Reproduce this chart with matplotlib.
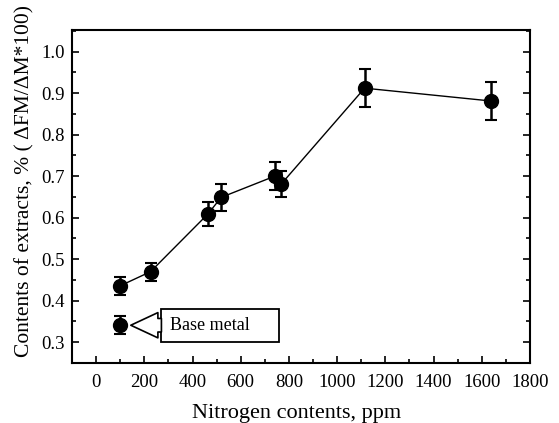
import matplotlib
matplotlib.use("Agg")
import matplotlib.pyplot as plt
from matplotlib.ticker import MultipleLocator
from matplotlib.patches import Rectangle

nitrogen = [100, 226, 464, 519, 741, 768, 1114, 1640]
extracts = [0.436, 0.470, 0.609, 0.649, 0.700, 0.681, 0.912, 0.881]
errors = [0.022, 0.022, 0.030, 0.032, 0.033, 0.032, 0.045, 0.045]
base_x = [100]
base_y = [0.341]
base_err = [0.022]
base_label = "Base metal"

plt.rcParams['font.family'] = ['Liberation Serif', 'DejaVu Serif']

fig = plt.figure(figsize=(5.59, 4.23), dpi=100)
ax = fig.add_axes([0.1288, 0.1418, 0.948 - 0.1288, 0.929 - 0.1418])

ax.errorbar(nitrogen, extracts, yerr=errors, fmt='-o', color='black',
            ms=10, lw=1.0, elinewidth=1.8, capsize=4, capthick=1.5)
ax.errorbar(base_x, base_y, yerr=base_err, fmt='o', color='black',
            ms=10, elinewidth=1.8, capsize=4, capthick=1.5)

# callout box
box_left, box_right = 268, 757
box_bottom, box_top = 0.301, 0.380
ax.add_patch(Rectangle((box_left, box_bottom), box_right - box_left, box_top - box_bottom,
                       fc='white', ec='black', lw=1.3, zorder=3))
ax.text(box_left + 38, (box_bottom + box_top) / 2, base_label, fontsize=13,
        va='center', ha='left', zorder=4)
ax.annotate('', xy=(base_x[0] + 44, base_y[0]), xytext=(box_left + 3, base_y[0]),
            arrowprops=dict(arrowstyle='simple,head_length=1.5,head_width=1.4,tail_width=0.75',
                            mutation_scale=13, fc='white', ec='black', lw=1.2,
                            shrinkA=0, shrinkB=0), zorder=5)

ax.set_xlim(-100, 1800)
ax.set_ylim(0.25, 1.052)
ax.xaxis.set_major_locator(MultipleLocator(200))
ax.xaxis.set_minor_locator(MultipleLocator(100))
ax.yaxis.set_minor_locator(MultipleLocator(0.05))
ax.set_yticks([0.3, 0.4, 0.5, 0.6, 0.7, 0.8, 0.9, 1.0])
ax.set_yticklabels(['0.3', '0.4', '0.5', '0.6', '0.7', '0.8', '0.9', '1.0'])
ax.tick_params(which='both', direction='in', right=True, labelsize=13.5, width=1.2)
ax.tick_params(which='major', length=5)
ax.tick_params(which='minor', length=3)
ax.tick_params(axis='x', pad=8)
ax.tick_params(axis='y', pad=5)
for s in ax.spines.values():
    s.set_linewidth(1.5)

ax.set_xlabel("Nitrogen contents, ppm", fontsize=16, labelpad=9)
ax.xaxis.label.set_x(0.49)
ax.set_ylabel("Contents of extracts, % ( ΔFM/ΔM*100)", fontsize=15.5, labelpad=5)
ax.yaxis.label.set_y(0.547)

fig.savefig("out.png", dpi=100)
